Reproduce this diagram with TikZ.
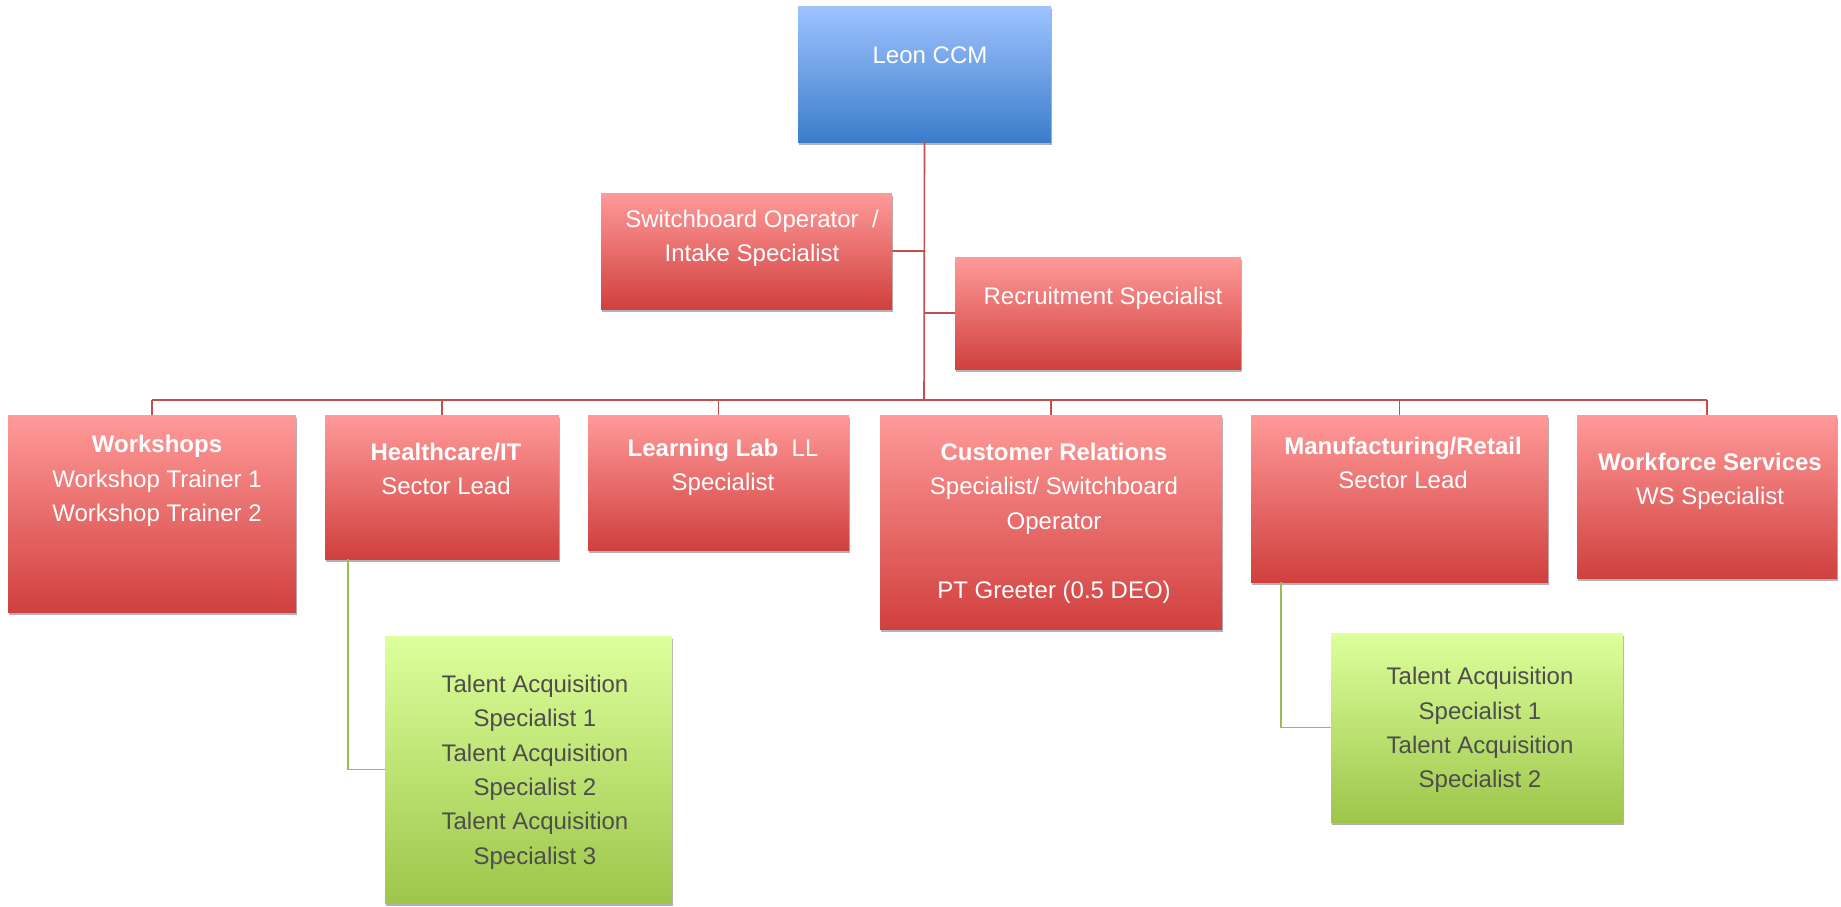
\documentclass[tikz,border=0pt]{standalone}
\usepackage{fontspec}
\setmainfont{Liberation Sans}
\usetikzlibrary{shadows}

\definecolor{redtop}{HTML}{FF9A99}
\definecolor{redbot}{HTML}{D0403E}
\definecolor{bluetop}{HTML}{9EC3FF}
\definecolor{bluebot}{HTML}{3C7DCB}
\definecolor{grntop}{HTML}{DDFF9C}
\definecolor{grnbot}{HTML}{9DC64A}
\definecolor{lnred}{HTML}{C0504D}
\definecolor{lngrn}{HTML}{9BBB59}
\definecolor{txtgray}{HTML}{4D4D4D}

\tikzset{
  box/.style={inner sep=0pt, outer sep=0pt,
    drop shadow={shadow xshift=0.6pt, shadow yshift=-1.6pt, fill=black, opacity=0.3}},
  redbox/.style={box, top color=redtop, bottom color=redbot},
  bluebox/.style={box, top color=bluetop, bottom color=bluebot},
  grnbox/.style={box, top color=grntop, bottom color=grnbot},
  boxtxt/.style={text=white, align=center, inner sep=0pt,
    font=\fontsize{12}{17.2}\selectfont},
  grntxt/.style={boxtxt, text=txtgray},
  redline/.style={draw=lnred, line width=0.8pt},
  grnline/.style={draw=lngrn, line width=0.8pt}
}

\begin{document}
\begin{tikzpicture}[x=0.5pt, y=-0.5pt]
\useasboundingbox (0,0) rectangle (1841,906);

% top
\node[bluebox, minimum width=126.5pt, minimum height=68pt] (leon) at (924.5,74) {};
\node[boxtxt] (leon-t) at (930,55) {Leon CCM};

% staff
\node[redbox, minimum width=145.5pt, minimum height=58pt] (switch) at (746.5,251) {};
\node[boxtxt] (switch-t) at (752,238) {Switchboard Operator~ /\\Intake Specialist};
\node[redbox, minimum width=143pt, minimum height=56pt] (recruit) at (1098,313) {};
\node[boxtxt] (recruit-t) at (1103,298) {Recruitment Specialist};

% departments
\node[redbox, minimum width=144pt, minimum height=98.5pt] (workshops) at (152,513.5) {};
\node[boxtxt] (workshops-t) at (157,481) {\textbf{Workshops}\\Workshop Trainer 1\\Workshop Trainer 2};
\node[redbox, minimum width=117pt, minimum height=72pt] (health) at (442,487) {};
\node[boxtxt] (health-t) at (446,469) {\textbf{Healthcare/IT}\\Sector Lead};
\node[redbox, minimum width=130.5pt, minimum height=67.5pt] (learn) at (718.5,482.5) {};
\node[boxtxt] (learn-t) at (723,467) {\textbf{Learning Lab}~ LL\\Specialist};
\node[redbox, minimum width=171pt, minimum height=107pt] (cust) at (1051,522) {};
\node[boxtxt] (cust-t) at (1054,523) {\textbf{Customer Relations}\\Specialist/ Switchboard\\Operator\\[17.2pt]PT Greeter (0.5 DEO)};
\node[redbox, minimum width=148.5pt, minimum height=83.5pt] (manuf) at (1399.5,498.5) {};
\node[boxtxt] (manuf-t) at (1403,463) {\textbf{Manufacturing/Retail}\\Sector Lead};
\node[redbox, minimum width=130pt, minimum height=81.5pt] (wfs) at (1707,496.5) {};
\node[boxtxt] (wfs-t) at (1710,481) {\textbf{Workforce Services}\\WS Specialist};

% talent acquisition
\node[grnbox, minimum width=143.5pt, minimum height=133.5pt] (ta1) at (528.5,769.5) {};
\node[grntxt] (ta1-t) at (535,772) {Talent Acquisition\\Specialist 1\\Talent Acquisition\\Specialist 2\\Talent Acquisition\\Specialist 3};
\node[grnbox, minimum width=146pt, minimum height=94.5pt] (ta2) at (1477,727.5) {};
\node[grntxt] (ta2-t) at (1480,730) {Talent Acquisition\\Specialist 1\\Talent Acquisition\\Specialist 2};

% connectors
\coordinate (bus) at (924,400);
\draw[redline] (leon.south) -- (bus);
\draw[redline] (switch.east) -- (switch.east -| bus);
\draw[redline] (recruit.west) -- (recruit.west -| bus);
\draw[redline] (workshops.north |- bus) -- (wfs.north |- bus);
\foreach \d in {workshops,health,learn,cust,manuf,wfs}
  \draw[redline] (\d.north) -- (\d.north |- bus);
\draw[grnline] ([xshift=11.5pt]health.south west) |- (ta1.west);
\draw[grnline] ([xshift=15pt]manuf.south west) |- (ta2.west);
\end{tikzpicture}
\end{document}
